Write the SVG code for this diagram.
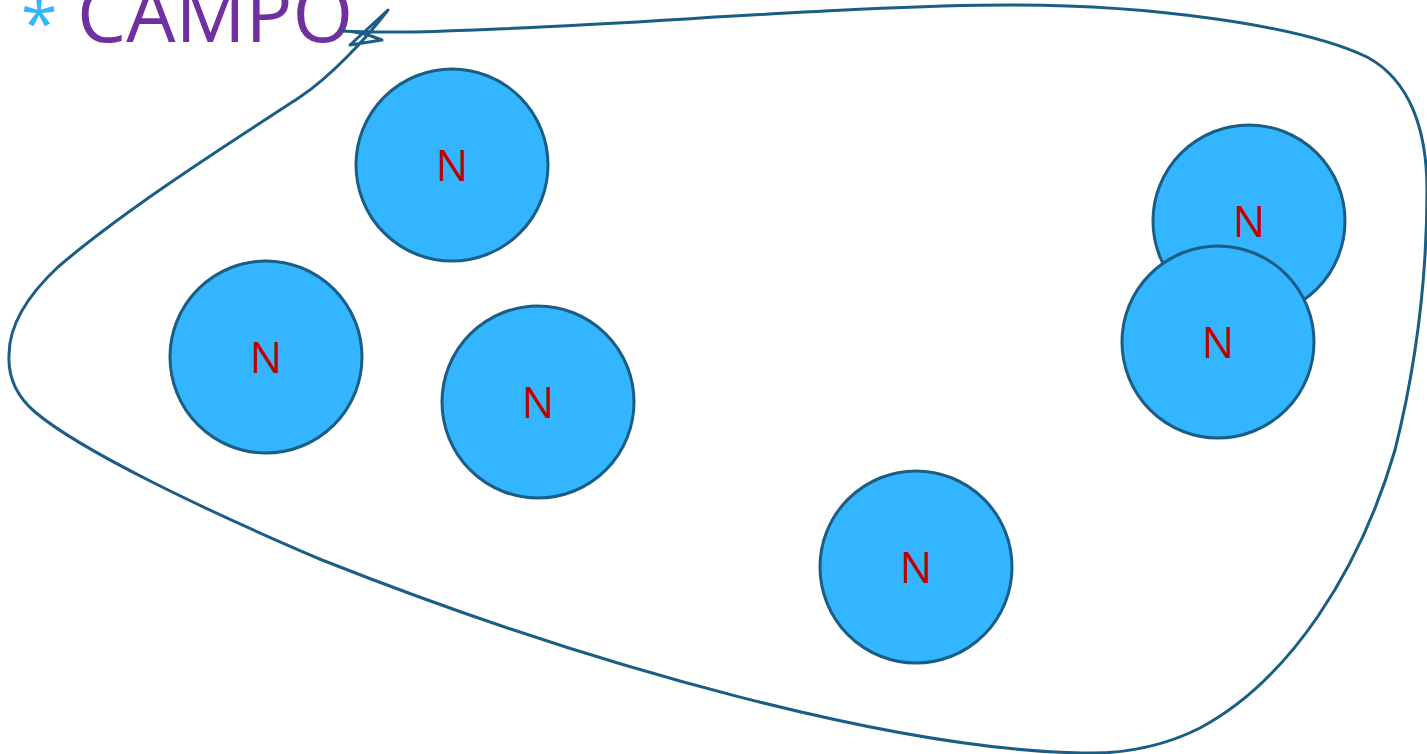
<svg xmlns="http://www.w3.org/2000/svg" width="1427" height="754" viewBox="0 0 1427 754">
<style>
.field{fill:none;stroke:#1a5e85;stroke-width:3;stroke-linejoin:round;stroke-linecap:round}
.node circle{fill:#33b5ff;stroke:#1a5e85;stroke-width:3}
.node text{fill:#c00000;font-family:"Open Sans","Liberation Sans",sans-serif;font-size:43px;text-anchor:middle}
.title{fill:#7030a0;font-family:"Open Sans","Liberation Sans",sans-serif;font-size:78px}
.bullet{fill:#33b5ff;font-family:"Open Sans","Liberation Sans",sans-serif;font-size:66px}
</style>
<rect width="1427" height="754" fill="#ffffff"/>
<text class="bullet" x="21" y="47">*</text>
<text class="title" x="77" y="42">CAMPO</text>
<g id="connectors">
<path class="field" d="M342,31 C380,33 410,32 445,31 C620,26 850,5 1012,5 C1150,5 1300,25 1367,57 C1410,80 1427,130 1427,190 C1427,300 1410,390 1395,450 C1360,570 1290,680 1200,728 C1160,748 1120,754 1083,753 C900,750 600,670 322,560 C200,508 80,450 35,412 C15,395 8,375 9,355 C9,325 28,295 58,267 C130,205 250,130 300,97 C330,77 365,40 388,10 L350,45 L382,40 C370,35 355,31 342,31 Z"/>
</g>
<g id="n1" class="node"><circle cx="452" cy="165" r="96"/><text x="452" y="181">N</text></g>
<g id="n2" class="node"><circle cx="266" cy="357" r="96"/><text x="266" y="373">N</text></g>
<g id="n3" class="node"><circle cx="538" cy="402" r="96"/><text x="538" y="418">N</text></g>
<g id="n4" class="node"><circle cx="916" cy="567" r="96"/><text x="916" y="583">N</text></g>
<g id="n5" class="node"><circle cx="1249" cy="221" r="96"/><text x="1249" y="237">N</text></g>
<g id="n6" class="node"><circle cx="1218" cy="342" r="96"/><text x="1218" y="358">N</text></g>
</svg>
